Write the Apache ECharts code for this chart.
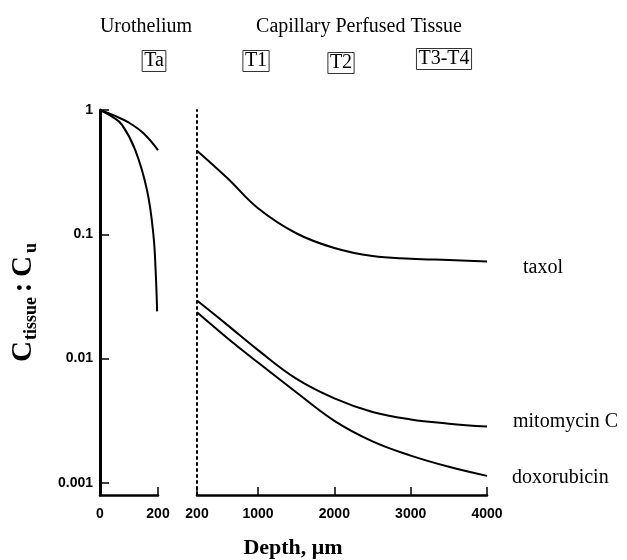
<!DOCTYPE html>
<html>
<head>
<meta charset="utf-8">
<script src="https://cdn.jsdelivr.net/npm/echarts@6/dist/echarts.min.js"></script>
<style>html,body{margin:0;padding:0;background:#fff}#c{width:627px;height:560px}</style>
</head>
<body>
<div id="c"></div>
<script>
// Urothelium panel (depth 0-200 um)
const uroUpper = [[0,1],[50,0.9],[100,0.79],[150,0.65],[200,0.476]];
const uroLower = [[0,1],[43,0.88],[76,0.76],[121,0.48],[162,0.227],[184,0.10],[192,0.05],[197,0.024]];
// Capillary perfused tissue panel (depth 200-4000 um)
const taxol = [[200,0.47],[600,0.282],[1000,0.162],[1500,0.102],[2000,0.0776],[2500,0.0668],[3000,0.0637],[3500,0.0621],[4000,0.0605]];
const mitomycin = [[200,0.0294],[600,0.0186],[1000,0.0117],[1500,0.0069],[2000,0.00479],[2500,0.00372],[3000,0.00324],[3500,0.0030],[4000,0.00284]];
const doxorubicin = [[200,0.0236],[600,0.0146],[1000,0.0093],[1500,0.00537],[2000,0.00316],[2500,0.00216],[3000,0.00166],[3500,0.00135],[4000,0.00114]];
const leftXTicks = [0, 200];
const rightXTicks = [200, 1000, 2000, 3000, 4000];
const yTicks = [1, 0.1, 0.01, 0.001];

const SERIF = '"Liberation Serif","Times New Roman",serif';
const SANS = '"Liberation Sans",Arial,sans-serif';

const chart = echarts.init(document.getElementById('c'), null, {renderer:'canvas'});

function yLabel(v){
  for (const t of yTicks) { if (Math.abs(v - t) / t < 1e-6) return String(t); }
  return '';
}
function xLabel(v){ return String(Math.round(v)); }

const lineBase = {type:'line', showSymbol:false, symbol:'none', smooth:0.4,
  lineStyle:{color:'#000', width:2}, silent:true, animation:false};

function endLbl(dist, dy){
  return {show:true, formatter:'{a}', color:'#000', fontFamily:SERIF, fontSize:20, distance:dist, offset:[0,dy]};
}

chart.setOption({
  animation:false,
  backgroundColor:'#fff',
  grid:[
    {left:100, top:110, width:58, height:385},
    {left:197, top:110, width:290, height:385}
  ],
  xAxis:[
    {gridIndex:0, type:'value', min:0, max:200, interval:200,
      axisLine:{lineStyle:{color:'#000', width:2.5}},
      axisTick:{inside:true, length:8, lineStyle:{color:'#000', width:1.5}},
      axisLabel:{color:'#000', fontFamily:SANS, fontSize:14, fontWeight:'bold', margin:12, formatter:xLabel, customValues:leftXTicks},
      splitLine:{show:false}},
    {gridIndex:1, type:'value', min:200, max:4000,
      axisLine:{lineStyle:{color:'#000', width:2.5}},
      axisTick:{inside:true, length:8, lineStyle:{color:'#000', width:1.5}, customValues:rightXTicks},
      axisLabel:{color:'#000', fontFamily:SANS, fontSize:14, fontWeight:'bold', margin:12, formatter:xLabel, customValues:rightXTicks},
      splitLine:{show:false}}
  ],
  yAxis:[
    {gridIndex:0, type:'log', min:0.0008, max:1, logBase:10,
      axisLine:{show:true, lineStyle:{color:'#000', width:3}},
      axisTick:{show:true, inside:true, length:9, lineStyle:{color:'#000', width:1.5}, customValues:yTicks},
      axisLabel:{color:'#000', fontFamily:SANS, fontSize:14, fontWeight:'bold', margin:7, formatter:yLabel, customValues:yTicks},
      splitLine:{show:false}, minorTick:{show:false}},
    {gridIndex:1, type:'log', min:0.0008, max:1, logBase:10,
      axisLine:{show:true, lineStyle:{color:'#000', width:2, type:[2,4]}},
      axisTick:{show:false}, axisLabel:{show:false}, splitLine:{show:false}}
  ],
  series:[
    Object.assign({}, lineBase, {name:'urothelium upper', xAxisIndex:0, yAxisIndex:0, data:uroUpper}),
    Object.assign({}, lineBase, {name:'urothelium lower', xAxisIndex:0, yAxisIndex:0, data:uroLower}),
    Object.assign({}, lineBase, {name:'taxol', xAxisIndex:1, yAxisIndex:1, data:taxol, endLabel:endLbl(36, 6)}),
    Object.assign({}, lineBase, {name:'mitomycin C', xAxisIndex:1, yAxisIndex:1, data:mitomycin, endLabel:endLbl(26, -5)}),
    Object.assign({}, lineBase, {name:'doxorubicin', xAxisIndex:1, yAxisIndex:1, data:doxorubicin, endLabel:endLbl(25, 2)})
  ],
  graphic:[
    {type:'text', x:146, y:27, style:{text:'Urothelium', font:'20px '+SERIF, fill:'#000', align:'center', verticalAlign:'middle'}},
    {type:'text', x:359, y:27, style:{text:'Capillary Perfused Tissue', font:'20px '+SERIF, fill:'#000', align:'center', verticalAlign:'middle'}},
    {type:'text', x:154, y:61, style:{text:'Ta', font:'20px '+SERIF, fill:'#000', align:'center', verticalAlign:'middle', padding:[1,2,0,2], borderColor:'#333', borderWidth:1}},
    {type:'text', x:256, y:61, style:{text:'T1', font:'20px '+SERIF, fill:'#000', align:'center', verticalAlign:'middle', padding:[1,2,0,2], borderColor:'#333', borderWidth:1}},
    {type:'text', x:341, y:63, style:{text:'T2', font:'20px '+SERIF, fill:'#000', align:'center', verticalAlign:'middle', padding:[1,2,0,2], borderColor:'#333', borderWidth:1}},
    {type:'text', x:444, y:59, style:{text:'T3-T4', font:'20px '+SERIF, fill:'#000', align:'center', verticalAlign:'middle', padding:[1,2,0,2], borderColor:'#333', borderWidth:1}},
    {type:'text', x:293, y:548, style:{text:'Depth, \u03bcm', font:'bold 22px '+SERIF, fill:'#000', align:'center', verticalAlign:'middle'}},
    {type:'group', x:23.5, y:300, rotation:Math.PI/2, children:[
      {type:'text', x:-51.5, y:0, style:{text:'C', font:'bold 29px '+SERIF, fill:'#000', align:'center', verticalAlign:'middle'}},
      {type:'text', x:-18.5, y:7.5, style:{text:'tissue', font:'bold 18px '+SERIF, fill:'#000', align:'center', verticalAlign:'middle'}},
      {type:'text', x:12.5, y:0, style:{text:':', font:'bold 29px '+SERIF, fill:'#000', align:'center', verticalAlign:'middle'}},
      {type:'text', x:33.5, y:0, style:{text:'C', font:'bold 29px '+SERIF, fill:'#000', align:'center', verticalAlign:'middle'}},
      {type:'text', x:52, y:7.5, style:{text:'u', font:'bold 18px '+SERIF, fill:'#000', align:'center', verticalAlign:'middle'}}
    ]}
  ]
});
</script>
</body>
</html>
